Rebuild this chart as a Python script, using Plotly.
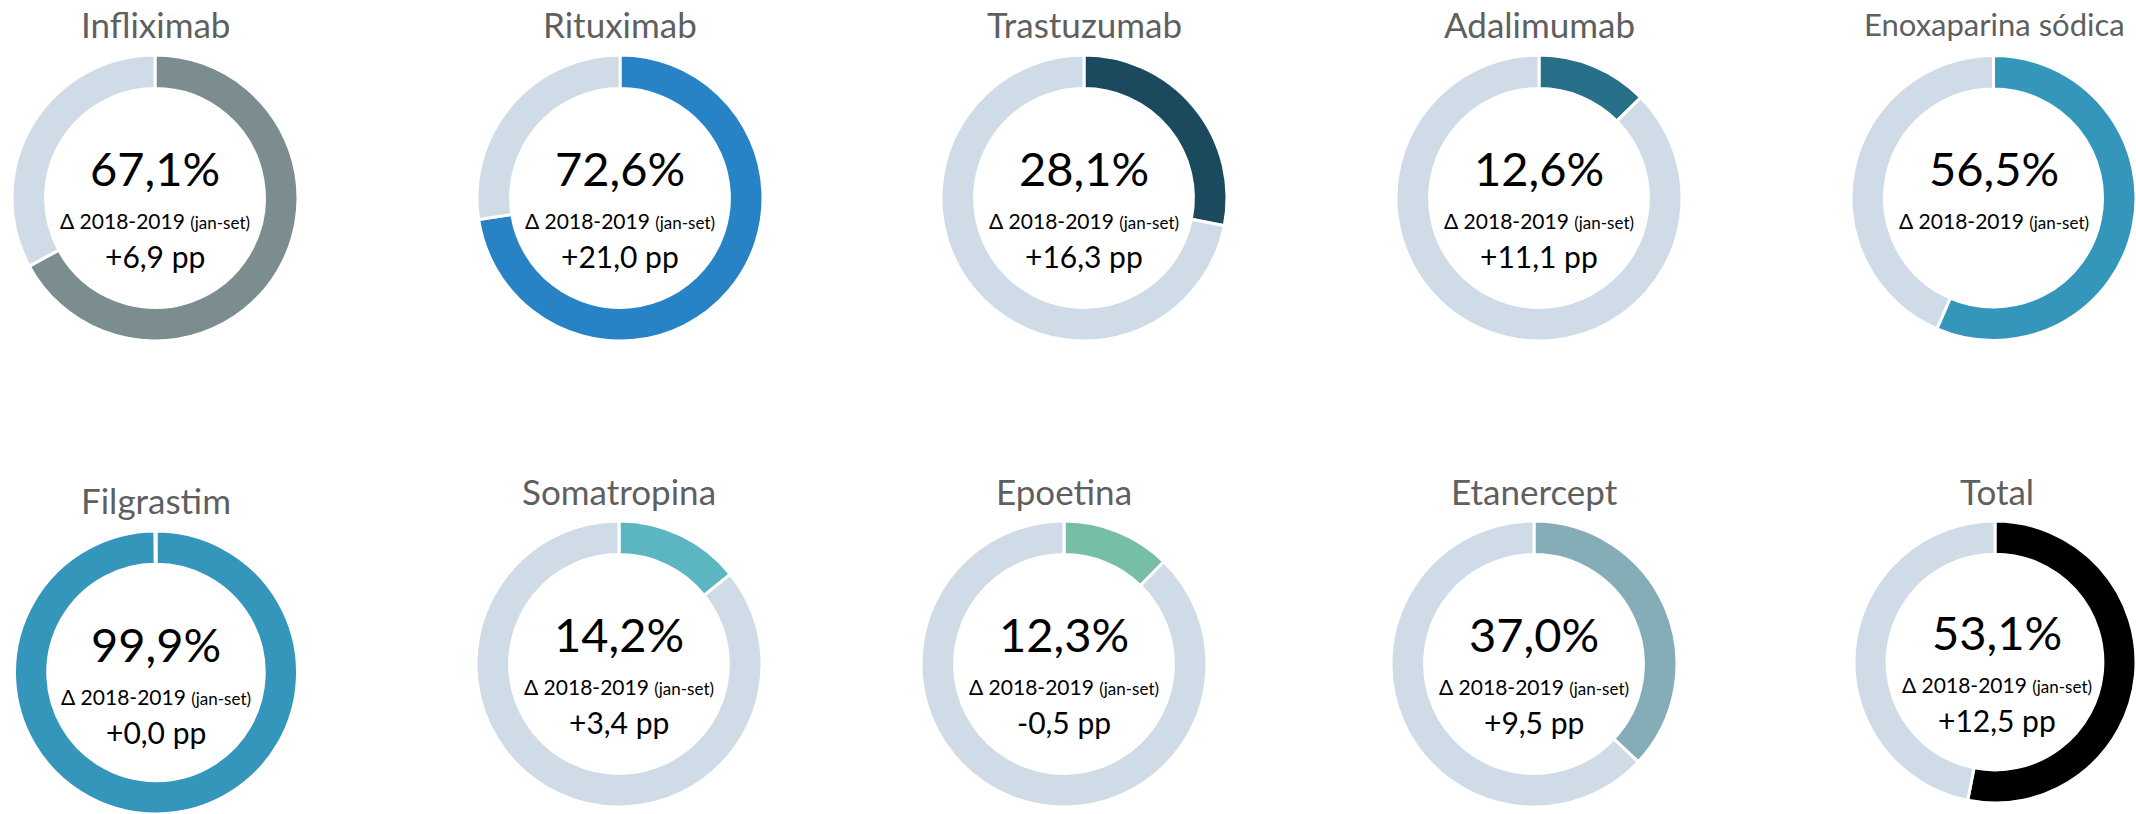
import plotly.graph_objects as go

# ---- data ----
names = ["Infliximab", "Rituximab", "Trastuzumab", "Adalimumab", "Enoxaparina sódica",
         "Filgrastim", "Somatropina", "Epoetina", "Etanercept", "Total"]
shares = [67.1, 72.6, 28.1, 12.6, 56.5, 99.9, 14.2, 12.3, 37.0, 53.1]
deltas_pp = [6.9, 21.0, 16.3, 11.1, None, 0.0, 3.4, -0.5, 9.5, 12.5]
delta_label = "Δ 2018-2019"
delta_period = "(jan-set)"

# ---- style / layout ----
colors = ["#7B8D8E", "#2883C6", "#1B4A5E", "#286F8A", "#3596BB",
          "#3596BB", "#5BB6C2", "#76BEA6", "#84ADB7", "#000000"]
rest_color = "#CFDBE6"
W, H = 2136, 814
centers = [(155, 198), (620, 198), (1084, 198), (1539, 198), (1994, 198),
           (156, 674), (619, 664), (1064, 664), (1534, 664), (1997, 662)]
title_y = [24, 24, 24, 24, 24, 500, 491, 491, 491, 491]
title_size = [35, 35, 35, 35, 31, 35, 35, 35, 35, 35]
R = 143
FONT = "Lato"


def fmt(v):
    return f"{v:.1f}".replace(".", ",")


fig = go.Figure()
annotations = []
for i, name in enumerate(names):
    cx, cy = centers[i]
    x0 = max(0, (cx - R) / W)
    x1 = min(1, (cx + R) / W)
    y0 = max(0, 1 - (cy + R) / H)
    y1 = min(1, 1 - (cy - R) / H)
    fig.add_trace(go.Pie(
        values=[shares[i], 100 - shares[i]],
        labels=["share", "rest"],
        marker=dict(colors=[colors[i], rest_color], line=dict(color="white", width=3)),
        hole=0.765,
        sort=False,
        direction="clockwise",
        rotation=0,
        textinfo="none",
        hoverinfo="skip",
        domain=dict(x=[x0, x1], y=[y0, y1]),
        showlegend=False,
    ))
    # title
    annotations.append(dict(
        x=cx / W, y=1 - title_y[i] / H, xref="paper", yref="paper",
        text=name, showarrow=False, xanchor="center", yanchor="middle",
        font=dict(family=FONT, size=title_size[i], color="#5F5F5F"),
    ))
    # big number
    annotations.append(dict(
        x=cx / W, y=1 - (cy - 30) / H, xref="paper", yref="paper",
        text=fmt(shares[i]) + "%", showarrow=False, xanchor="center", yanchor="middle",
        font=dict(family=FONT, size=47, color="#000000"),
    ))
    # delta label
    annotations.append(dict(
        x=cx / W, y=1 - (cy + 22) / H, xref="paper", yref="paper",
        text=f"{delta_label} <span style='font-size:17px'>{delta_period}</span>",
        showarrow=False, xanchor="center", yanchor="middle",
        font=dict(family=FONT, size=21, color="#000000"),
    ))
    if deltas_pp[i] is not None:
        d = deltas_pp[i]
        sign = "+" if d >= 0 else "-"
        annotations.append(dict(
            x=cx / W, y=1 - (cy + 58) / H, xref="paper", yref="paper",
            text=f"{sign}{fmt(abs(d))} pp", showarrow=False, xanchor="center", yanchor="middle",
            font=dict(family=FONT, size=30, color="#000000"),
        ))

fig.update_layout(
    width=W, height=H,
    margin=dict(l=0, r=0, t=0, b=0),
    paper_bgcolor="white", plot_bgcolor="white",
    showlegend=False,
    annotations=annotations,
)
fig.write_html("out.html")
